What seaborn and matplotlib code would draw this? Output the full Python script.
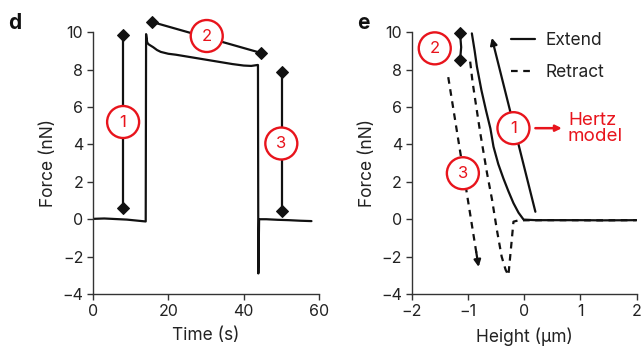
import matplotlib
matplotlib.use("Agg")
import matplotlib.pyplot as plt
import seaborn as sns
import pandas as pd
from matplotlib.patches import Circle

sns.set_theme(style="white")
plt.rcParams['font.family'] = ['Inter', 'DejaVu Sans']

RED = "#e8141c"
INK = "#111111"

# ---- panel d data ----
time_d = [0, 3, 6, 9, 12, 14, 14.1, 14.4, 14.8, 16, 17, 18, 20, 22, 25, 28, 31, 34, 37, 40, 42, 43.7,
          43.8, 43.9, 44.1, 46, 49, 52, 55, 58]
force_d = [0.02, 0.04, 0.01, -0.02, -0.08, -0.12, 9.9, 9.45, 9.35, 9.2, 9.05, 8.95, 8.85, 8.8, 8.7, 8.6,
           8.5, 8.4, 8.3, 8.22, 8.2, 8.25, 8.25, -2.9, 0.0, 0.0, -0.03, -0.05, -0.08, -0.1]
seg1_t = [8.0, 8.0]
seg1_f = [0.6, 9.85]
seg2_t = [15.7, 44.5]
seg2_f = [10.55, 8.9]
seg3_t = [50.2, 50.2]
seg3_f = [0.45, 7.9]
circ_d = [("1", 8.0, 5.2), ("2", 30.2, 9.8), ("3", 50.0, 4.05)]

# ---- panel e data ----
ext_h = [-0.93, -0.88, -0.84, -0.76, -0.68, -0.6, -0.545, -0.46, -0.37, -0.28, -0.19, -0.1, -0.01, 0.2, 0.6, 1.0, 1.4, 2.0]
ext_f = [9.94, 9.0, 8.16, 6.9, 5.84, 4.85, 3.88, 2.95, 2.19, 1.5, 0.86, 0.35, -0.02, -0.05, -0.05, -0.05, -0.06, -0.05]
ret_h = [-0.96, -0.92, -0.87, -0.78, -0.66, -0.57, -0.485, -0.40, -0.33, -0.28, -0.22, -0.19, -0.1, 0.3, 0.8, 1.3, 2.0]
ret_f = [8.43, 7.4, 6.38, 4.6, 2.46, 1.03, -0.57, -2.0, -2.7, -3.0, -1.1, -0.13, -0.06, -0.05, -0.05, -0.06, -0.05]
seg2e_h = [-1.14, -1.12, -1.14]
seg2e_f = [9.94, 9.2, 8.52]
arrow1 = [(0.2, 0.4), (-0.575, 9.7)]
arrow3 = [(-1.35, 7.6), (-0.81, -2.55)]
circ_e = [("1", -0.19, 4.87), ("2", -1.59, 9.14), ("3", -1.09, 2.46)]

fig = plt.figure(figsize=(6.43, 3.47), dpi=100)
axd = fig.add_axes([0.1446, 0.1527, 0.3515, 0.7543])
axe = fig.add_axes([0.6403, 0.1527, 0.3497, 0.7543])

def style(ax, xlim, xticks, xlabel):
    ax.set_xlim(*xlim)
    ax.set_ylim(-4, 10)
    ax.set_xticks(xticks)
    ax.set_yticks(range(-4, 11, 2))
    ax.set_yticklabels([str(v).replace('-', '\u2212') for v in range(-4, 11, 2)])
    ax.set_xticklabels([str(v).replace('-', '\u2212') for v in xticks])
    for s in ['top', 'right']:
        ax.spines[s].set_visible(False)
    for s in ['left', 'bottom']:
        ax.spines[s].set_color('#333333')
        ax.spines[s].set_linewidth(1.0)
    ax.tick_params(axis='both', direction='out', length=4, width=1, color='#333333',
                   labelsize=11.5, labelcolor='#222222', pad=3, left=True, bottom=True)
    ax.set_xlabel(xlabel, fontsize=12.5, color='#222222', labelpad=6)
    ax.set_ylabel("Force (nN)", fontsize=12.5, color='#222222', labelpad=4)

def circle(ax, label, x, y):
    ax.figure.canvas.draw()
    disp = ax.transData.transform((x, y))
    c = Circle(disp, radius=16, transform=None, facecolor='white', edgecolor=RED, lw=1.7, zorder=5, clip_on=False)
    ax.add_artist(c)
    ax.text(x, y, label, ha='center', va='center', color=RED, fontsize=12, zorder=6)

# ---- panel d ----
sns.lineplot(x=time_d, y=force_d, ax=axd, color=INK, lw=1.6, sort=False, estimator=None)
for tt, ff in [(seg1_t, seg1_f), (seg2_t, seg2_f), (seg3_t, seg3_f)]:
    sns.lineplot(x=tt, y=ff, ax=axd, color=INK, lw=1.6, sort=False, estimator=None,
                 marker='D', markersize=6.5, markeredgecolor=INK, clip_on=False)
style(axd, (0, 60), [0, 20, 40, 60], "Time (s)")

# ---- panel e ----
sns.lineplot(x=ext_h, y=ext_f, ax=axe, color=INK, lw=1.6, sort=False, estimator=None, label="Extend")
sns.lineplot(x=ret_h, y=ret_f, ax=axe, color=INK, lw=1.6, sort=False, estimator=None, label="Retract",
             linestyle=(0, (3, 2.5)))
sns.lineplot(x=seg2e_h, y=seg2e_f, ax=axe, color=INK, lw=1.6, sort=False, estimator=None,
             marker='D', markersize=6.5, markeredgecolor=INK, markevery=[0, 2], clip_on=False)
axe.annotate("", xy=arrow1[1], xytext=arrow1[0],
             arrowprops=dict(arrowstyle='-|>', color=INK, lw=1.6, mutation_scale=10, shrinkA=0, shrinkB=0))
(x0, y0), (x1, y1) = arrow3
sns.lineplot(x=[x0, x1], y=[y0, y1], ax=axe, color=INK, lw=1.6, sort=False, estimator=None,
             linestyle=(0, (3, 2.5)))
axe.annotate("", xy=(x1, y1), xytext=(x1 - (x1 - x0) * 0.08, y1 - (y1 - y0) * 0.08),
             arrowprops=dict(arrowstyle='-|>', color=INK, lw=1.6, mutation_scale=10, shrinkA=0, shrinkB=0))
style(axe, (-2, 2), [-2, -1, 0, 1, 2], "Height (\u03bcm)")
leg = axe.legend(loc='upper left', bbox_to_anchor=(0.37, 1.06), frameon=False, fontsize=12.5,
                 handlelength=1.4, handletextpad=0.6, labelspacing=0.85, labelcolor='#222222')

for lab, x, y in circ_d:
    circle(axd, lab, x, y)
for lab, x, y in circ_e:
    circle(axe, lab, x, y)

axe.annotate("", xy=(0.67, 4.87), xytext=(0.2, 4.87),
             arrowprops=dict(arrowstyle='-|>', color=RED, lw=1.8, mutation_scale=9, shrinkA=0, shrinkB=0))
axe.text(0.78, 4.87, "Hertz\nmodel", color=RED, fontsize=13.5, ha='left', va='center', linespacing=0.92)

fig.text(0.012, 0.935, "d", fontsize=15, fontweight='bold', color='#111111', va='center')
fig.text(0.555, 0.935, "e", fontsize=15, fontweight='bold', color='#111111', va='center')

fig.savefig("out.png", dpi=100)
